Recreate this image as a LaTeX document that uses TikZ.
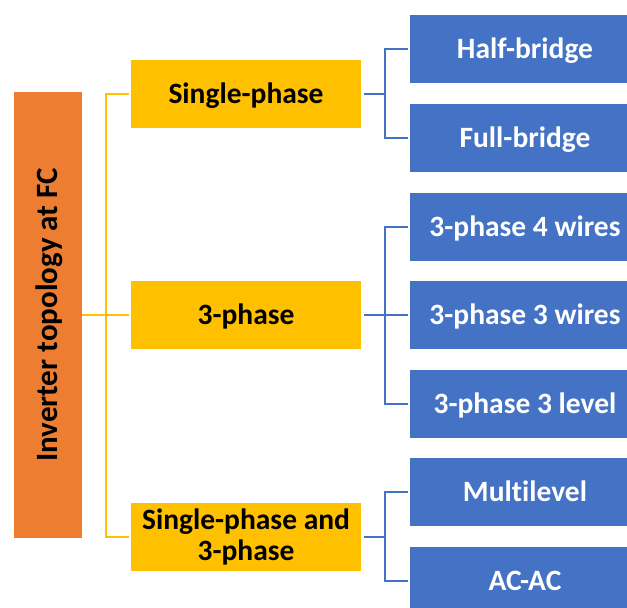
\documentclass[tikz,border=0pt]{standalone}
\usepackage{fontspec}
\setmainfont{Carlito}[Ligatures={NoCommon}]
\definecolor{orng}{HTML}{ED7D31}
\definecolor{ylw}{HTML}{FFC000}
\definecolor{blu}{HTML}{4472C4}
\begin{document}
\begin{tikzpicture}[x=1pt,y=-1pt,
  base/.style={rectangle, inner sep=0pt, font=\fontsize{29.5}{31}\selectfont\bfseries, align=center},
  oneline/.style={text height=24pt, text depth=4.6pt},
  rootbox/.style={base, oneline, font=\fontsize{31}{33}\selectfont\bfseries, fill=orng, text=black, minimum width=446pt, minimum height=68pt, rotate=90},
  midbox/.style={base, fill=ylw, text=black, minimum width=230pt, minimum height=68pt},
  leafbox/.style={base, oneline, fill=blu, text=white, minimum width=230pt, minimum height=68pt},
  yline/.style={draw=ylw, line width=2pt},
  bline/.style={draw=blu, line width=2.2pt}]
\useasboundingbox (0,0) rectangle (627,608);
\clip (0,0) rectangle (627,608);
\node[rootbox] (root) at (48,315) {Inverter topology at FC};
\node[midbox, oneline] (m1) at (246,94) {Single-phase};
\node[midbox, oneline] (m2) at (246,315) {3-phase};
\node[midbox] (m3) at (246,537) {Single-phase and\\3-phase};
\node[leafbox] (b1) at (525,49) {Half-bridge};
\node[leafbox] (b2) at (525,138) {Full-bridge};
\node[leafbox] (b3) at (525,227) {3-phase 4 wires};
\node[leafbox] (b4) at (525,315) {3-phase 3 wires};
\node[leafbox] (b5) at (525,404) {3-phase 3 level};
\node[leafbox] (b6) at (525,492) {Multilevel};
\node[leafbox] (b7) at (525,581) {AC-AC};
% yellow connectors
\coordinate (yj) at (106,315);
\draw[yline] (root.south) -- ([xshift=-2pt]m2.west);
\draw[yline] ([xshift=-2pt]m1.west) -| (yj) |- ([xshift=-2pt]m3.west);
% blue connectors
\coordinate (j1) at (385,94);
\coordinate (j2) at (385,315);
\coordinate (j3) at (385,537);
\draw[bline] ([xshift=3pt]m1.east) -- (j1);
\draw[bline] ([xshift=-2pt]b1.west) -| (j1) |- ([xshift=-2pt]b2.west);
\draw[bline] ([xshift=3pt]m2.east) -- ([xshift=-2pt]b4.west);
\draw[bline] ([xshift=-2pt]b3.west) -| (j2) |- ([xshift=-2pt]b5.west);
\draw[bline] ([xshift=3pt]m3.east) -- (j3);
\draw[bline] ([xshift=-2pt]b6.west) -| (j3) |- ([xshift=-2pt]b7.west);
\end{tikzpicture}
\end{document}
